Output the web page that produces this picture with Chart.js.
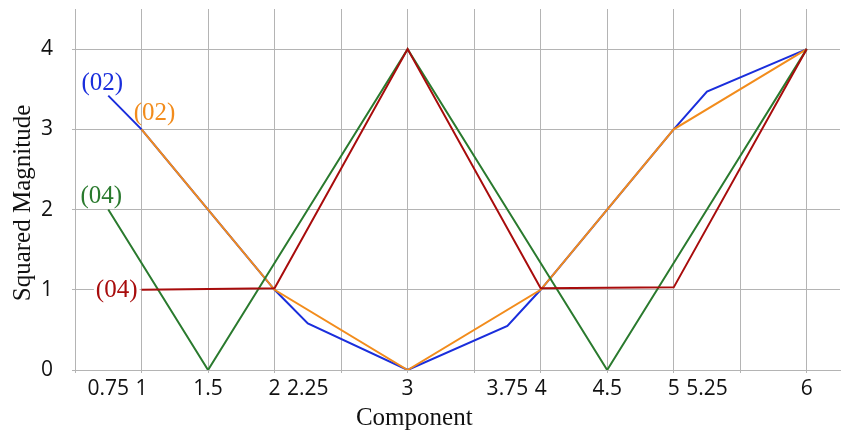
<!DOCTYPE html>
<html>
<head>
<meta charset="utf-8">
<script src="https://cdn.jsdelivr.net/npm/chart.js@4/dist/chart.umd.min.js"></script>
<style>
  html, body { margin: 0; padding: 0; background: #fff; }
  #wrap { width: 841px; height: 436px; }
</style>
</head>
<body>
<div id="wrap"><canvas id="chart"></canvas></div>
<script>
// values
const blueX = [0.75, 1, 1.5, 2, 2.25, 3, 3.75, 4, 4.5, 5, 5.25, 6];
const blueY = [3.42, 3, 2, 1, 0.58, 0, 0.55, 1, 2, 3, 3.47, 4];
const orangeX = [1, 2, 3, 4, 5, 6];
const orangeY = [3, 1, 0, 1, 3, 4];
const greenX = [0.75, 1.5, 2.25, 3, 3.75, 4.5, 5.25, 6];
const greenY = [2, 0, 2, 4, 2, 0, 2, 4];
const redX = [1, 2, 3, 4, 5, 6];
const redY = [1, 1.02, 4, 1.02, 1.03, 4];

const seriesNames = ['(02)', '(02)', '(04)', '(04)'];
const xTickLabels = [0.75, 1, 1.5, 2, 2.25, 3, 3.75, 4, 4.5, 5, 5.25, 6];
const xGridValues = [0.5, 1, 1.5, 2, 2.5, 3, 3.5, 4, 4.5, 5, 5.5, 6];
const yTickValues = [0, 1, 2, 3, 4];

const GRID = '#b4b4b4';
const TICK_FONT = { family: '"Open Sans", sans-serif', size: 21 };
const SERIF = '25px "Liberation Serif", serif';

function pts(xs, ys) {
    return xs.map((x, i) => ({ x: x, y: ys[i] }));
}

// label placement relative to each series' first point (px offsets)
const labelStyle = [
    { color: '#1a2edc', dx: -6, dy: -12, align: 'center', bg: false },
    { color: '#f28c1c', dx: 13, dy: -16, align: 'center', bg: false },
    { color: '#2a7a2e', dx: -7, dy: -13, align: 'center', bg: false },
    { color: '#a80c0c', dx: -4, dy: 1, align: 'right', bg: true }
];

const seriesPlugin = {
    id: 'seriesText',
    afterDatasetsDraw(chart) {
        const ctx = chart.ctx;
        const xs = chart.scales.x, ys = chart.scales.y;
        const firsts = [[blueX[0], blueY[0]], [orangeX[0], orangeY[0]], [greenX[0], greenY[0]], [redX[0], redY[0]]];
        ctx.save();
        ctx.font = SERIF;
        ctx.textBaseline = 'middle';
        firsts.forEach((p, i) => {
            const st = labelStyle[i];
            const px = xs.getPixelForValue(p[0]) + st.dx;
            const py = ys.getPixelForValue(p[1]) + st.dy;
            const w = ctx.measureText(seriesNames[i]).width;
            if (st.bg) {
                ctx.fillStyle = '#fff';
                const left = st.align === 'right' ? px - w - 2 : px - w / 2 - 2;
                ctx.fillRect(left, py - 12, w + 4, 24);
            }
            ctx.fillStyle = st.color;
            ctx.textAlign = st.align;
            ctx.fillText(seriesNames[i], px, py);
        });

        // axis titles
        const area = chart.chartArea;
        ctx.fillStyle = '#111';
        ctx.textAlign = 'center';
        ctx.textBaseline = 'alphabetic';
        ctx.fillText('Component', xs.getPixelForValue(3.05), area.bottom + 55);
        ctx.translate(area.left - 52, area.bottom - 167);
        ctx.rotate(-Math.PI / 2);
        ctx.textBaseline = 'middle';
        ctx.fillText('Squared Magnitude', 0, 0);
        ctx.restore();
    }
};

const lineDefaults = { borderWidth: 2, pointRadius: 0, tension: 0, fill: false };

new Chart(document.getElementById('chart'), {
    type: 'line',
    data: {
        datasets: [
            { ...lineDefaults, data: pts(redX, redY), borderColor: labelStyle[3].color },
            { ...lineDefaults, data: pts(greenX, greenY), borderColor: labelStyle[2].color },
            { ...lineDefaults, data: pts(orangeX, orangeY), borderColor: labelStyle[1].color },
            { ...lineDefaults, data: pts(blueX, blueY), borderColor: labelStyle[0].color }
        ]
    },
    options: {
        responsive: true,
        maintainAspectRatio: false,
        animation: false,
        layout: { padding: { top: 9, right: 1, left: 0, bottom: 0 } },
        plugins: {
            legend: { display: false },
            tooltip: { enabled: false }
        },
        scales: {
            x: {
                type: 'linear',
                min: 0.5,
                max: 6.25,
                afterBuildTicks(scale) {
                    const vals = Array.from(new Set(xGridValues.concat(xTickLabels))).sort((a, b) => a - b);
                    scale.ticks = vals.map(v => ({ value: v }));
                },
                afterFit(scale) {
                    scale.height = 66;
                    scale.paddingLeft = 0;
                    scale.paddingRight = 0;
                },
                grid: {
                    color: c => (c.tick && xGridValues.includes(c.tick.value)) ? GRID : 'rgba(0,0,0,0)',
                    tickLength: 3,
                    lineWidth: 1
                },
                border: { color: GRID },
                ticks: {
                    autoSkip: false,
                    maxRotation: 0,
                    padding: 3,
                    color: '#111',
                    font: TICK_FONT,
                    callback: v => xTickLabels.includes(v) ? String(v) : ''
                }
            },
            y: {
                min: 0,
                max: 4.5,
                afterBuildTicks(scale) {
                    scale.ticks = yTickValues.map(v => ({ value: v }));
                },
                afterFit(scale) {
                    scale.width = 75;
                    scale.paddingTop = 0;
                    scale.paddingBottom = 0;
                },
                grid: { color: GRID, tickLength: 3 },
                border: { color: GRID },
                ticks: {
                    padding: 19,
                    color: '#111',
                    font: TICK_FONT
                }
            }
        }
    },
    plugins: [seriesPlugin]
});
</script>
</body>
</html>
